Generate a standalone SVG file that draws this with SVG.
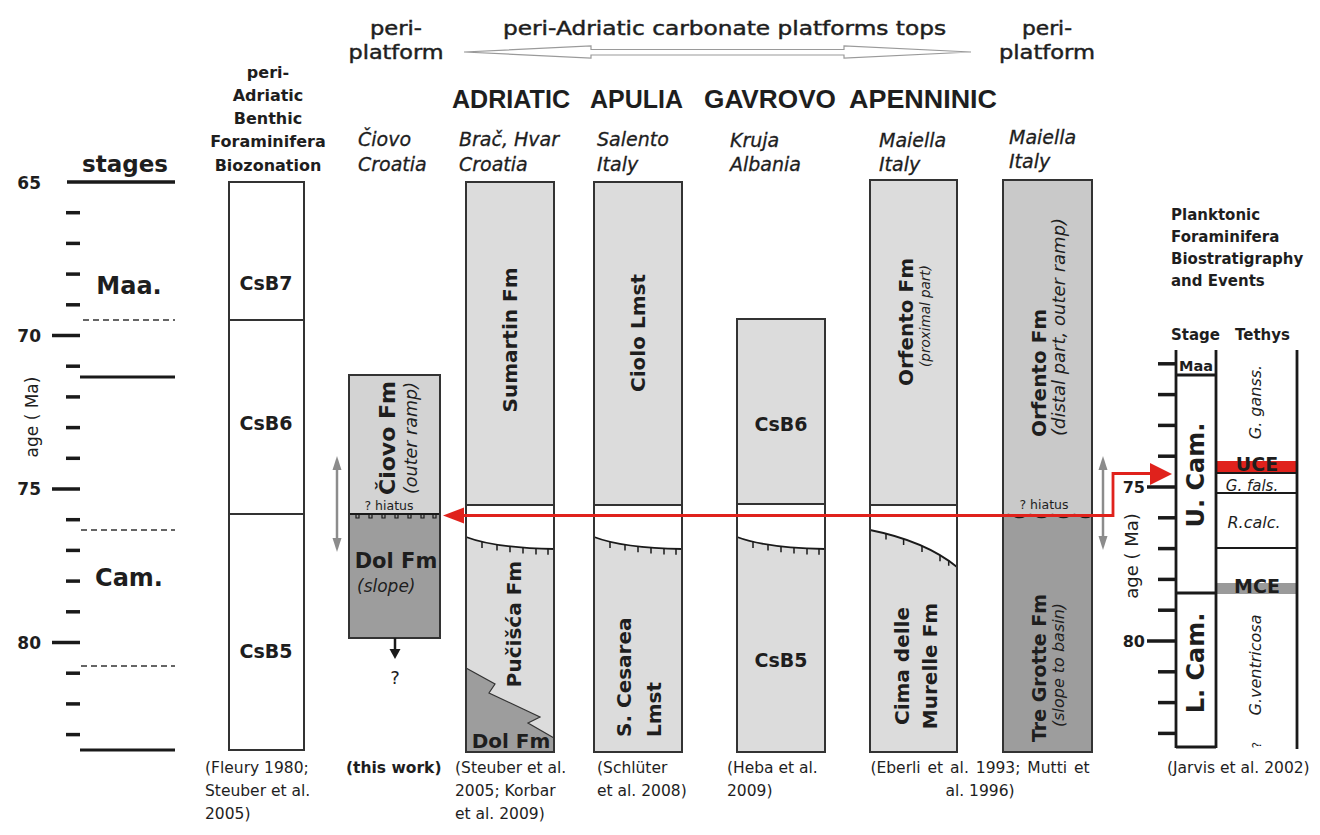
<svg xmlns="http://www.w3.org/2000/svg" width="1320" height="835" viewBox="0 0 1320 835">
<style>
text{font-family:"DejaVu Sans","Liberation Sans",sans-serif;fill:#1e1e1e}
.b{font-weight:bold}
.i{font-style:italic}
.med{stroke:#1e1e1e;stroke-width:0.45}
.reg{font-family:"Liberation Sans",Arial,sans-serif;font-weight:bold;font-size:25px}
.loc{font-size:19px;font-style:italic;stroke:#1e1e1e;stroke-width:0.3}
.ref{font-size:15.5px;fill:#3a3a3a}
.col{fill:none;stroke:#333;stroke-width:2}
.lt{fill:#dcdcdc}
.mid{fill:#c9c9c9}
.dk{fill:#9d9d9d}
.tk{stroke:#1a1a1a;stroke-width:3.5}
.ln{stroke:#1a1a1a;stroke-width:3}
.dash{stroke:#333;stroke-width:1.3;stroke-dasharray:6 4}
.unc{fill:none;stroke:#1a1a1a;stroke-width:1.8}
.utk{stroke:#1a1a1a;stroke-width:1.5}
.red{stroke:#e0221c;stroke-width:2.8;fill:none}
.gar{stroke:#8c8c8c;stroke-width:2.5}
.rb{stroke:#1a1a1a;stroke-width:2.8}
.rt{stroke:#1a1a1a;stroke-width:2}
</style>
<rect x="0" y="0" width="1320" height="835" fill="#fff"/>

<g id="header">
  <text class="med" x="503" y="35" font-size="19" textLength="443" lengthAdjust="spacingAndGlyphs">peri-Adriatic carbonate platforms tops</text>
  <polygon points="464,52 591,46 591,49.5 844,49.5 844,46 971,52 844,58 844,55 591,55 591,58" fill="#fff" stroke="#9a9a9a" stroke-width="1.2"/>
  <text class="med" x="396" y="35" font-size="19" text-anchor="middle" textLength="52" lengthAdjust="spacingAndGlyphs">peri-</text>
  <text class="med" x="396" y="59" font-size="19" text-anchor="middle" textLength="95" lengthAdjust="spacingAndGlyphs">platform</text>
  <text class="med" x="1047" y="35" font-size="19" text-anchor="middle" textLength="50" lengthAdjust="spacingAndGlyphs">peri-</text>
  <text class="med" x="1047" y="59" font-size="19" text-anchor="middle" textLength="96" lengthAdjust="spacingAndGlyphs">platform</text>
  <text class="reg" x="452" y="108" textLength="118" lengthAdjust="spacingAndGlyphs">ADRIATIC</text>
  <text class="reg" x="590" y="108" textLength="93" lengthAdjust="spacingAndGlyphs">APULIA</text>
  <text class="reg" x="704" y="108" textLength="132" lengthAdjust="spacingAndGlyphs">GAVROVO</text>
  <text class="reg" x="849" y="108" textLength="148" lengthAdjust="spacingAndGlyphs">APENNINIC</text>
</g>

<g id="axis-left">
  <text class="b" font-size="17" x="41" y="189" text-anchor="end">65</text>
  <text class="b" font-size="17" x="41" y="342" text-anchor="end">70</text>
  <text class="b" font-size="17" x="41" y="495" text-anchor="end">75</text>
  <text class="b" font-size="17" x="41" y="649" text-anchor="end">80</text>
  <text font-size="17" transform="translate(38,417) rotate(-90)" text-anchor="middle">age ( Ma)</text>
  <g class="tk">
    <line x1="52" y1="335.5" x2="80" y2="335.5"/>
    <line x1="52" y1="489" x2="80" y2="489"/>
    <line x1="52" y1="642.5" x2="80" y2="642.5"/>
    <line x1="66" y1="212.7" x2="80" y2="212.7"/>
    <line x1="66" y1="243.4" x2="80" y2="243.4"/>
    <line x1="66" y1="274.1" x2="80" y2="274.1"/>
    <line x1="66" y1="304.8" x2="80" y2="304.8"/>
    <line x1="66" y1="366.2" x2="80" y2="366.2"/>
    <line x1="66" y1="396.9" x2="80" y2="396.9"/>
    <line x1="66" y1="427.6" x2="80" y2="427.6"/>
    <line x1="66" y1="458.3" x2="80" y2="458.3"/>
    <line x1="66" y1="519.7" x2="80" y2="519.7"/>
    <line x1="66" y1="550.4" x2="80" y2="550.4"/>
    <line x1="66" y1="581.1" x2="80" y2="581.1"/>
    <line x1="66" y1="611.8" x2="80" y2="611.8"/>
    <line x1="66" y1="673.2" x2="80" y2="673.2"/>
    <line x1="66" y1="703.9" x2="80" y2="703.9"/>
    <line x1="66" y1="734.6" x2="80" y2="734.6"/>
  </g>
</g>

<g id="stages">
  <text class="b" font-size="23" x="125" y="172" text-anchor="middle">stages</text>
  <line class="tk" x1="67" y1="182" x2="175" y2="182"/>
  <line class="ln" x1="80" y1="377" x2="175" y2="377"/>
  <line class="ln" x1="80" y1="750" x2="175" y2="750"/>
  <line class="dash" x1="83" y1="320" x2="175" y2="320"/>
  <line class="dash" x1="81" y1="530" x2="175" y2="530"/>
  <line class="dash" x1="81" y1="666" x2="175" y2="666"/>
  <text class="b" font-size="24" x="129" y="294" text-anchor="middle">Maa.</text>
  <text class="b" font-size="24" x="129" y="586" text-anchor="middle">Cam.</text>
</g>

<g id="biozonation">
  <g class="b" font-size="16" text-anchor="middle">
    <text x="268" y="78">peri-</text>
    <text x="268" y="101">Adriatic</text>
    <text x="268" y="124">Benthic</text>
    <text x="268" y="147">Foraminifera</text>
    <text x="268" y="171">Biozonation</text>
  </g>
  <rect x="229" y="182" width="75" height="568" fill="#fff" stroke="#333" stroke-width="2"/>
  <line x1="229" y1="320" x2="304" y2="320" stroke="#333" stroke-width="2"/>
  <line x1="229" y1="514" x2="304" y2="514" stroke="#333" stroke-width="2"/>
  <g class="b" font-size="19" text-anchor="middle">
    <text x="266" y="290">CsB7</text>
    <text x="266" y="430">CsB6</text>
    <text x="266" y="658">CsB5</text>
  </g>
</g>

<g id="col-ciovo">
  <text class="loc" x="358" y="146">Čiovo</text>
  <text class="loc" x="358" y="171">Croatia</text>
  <rect x="349" y="375" width="91" height="139" fill="#d3d3d3"/>
  <rect class="dk" x="349" y="514" width="91" height="124"/>
  <line x1="349" y1="514" x2="440" y2="514" stroke="#1a1a1a" stroke-width="2"/>
  <path d="M356,514 v4 h3 v-4 M369,514 v4 h3 v-4 M382,514 v4 h3 v-4 M395,514 v4 h3 v-4 M408,514 v4 h3 v-4 M421,514 v4 h3 v-4 M433,514 v4 h3 v-4" fill="none" stroke="#1a1a1a" stroke-width="1.2"/>
  <rect class="col" x="349" y="375" width="91" height="263"/>
  <text class="b" font-size="22" transform="translate(395,438) rotate(-90)" text-anchor="middle">Čiovo Fm</text>
  <text class="i" font-size="17.5" transform="translate(417,438) rotate(-90)" text-anchor="middle">(outer ramp)</text>
  <text font-size="12.5" x="389" y="510" text-anchor="middle">? hiatus</text>
  <text class="b" font-size="21" x="396" y="568" text-anchor="middle">Dol Fm</text>
  <text class="i" font-size="17" x="357" y="592">(slope)</text>
  <line x1="395" y1="638" x2="395" y2="651" stroke="#1a1a1a" stroke-width="2.5"/>
  <polygon points="389.5,649 400.5,649 395,659" fill="#1a1a1a"/>
  <text font-size="18" x="395" y="684" text-anchor="middle">?</text>
</g>

<g id="col-brac">
  <text class="loc" x="459" y="146">Brač, Hvar</text>
  <text class="loc" x="459" y="171">Croatia</text>
  <rect class="lt" x="466" y="182" width="88" height="323"/>
  <path class="lt" d="M466,537 Q495,548 554,549 V752 H466 Z"/>
  <polygon class="dk" points="466,668 495,684 489,693 540,717 528,723 554,738 554,752 466,752"/>
  <polyline points="466,668 495,684 489,693 540,717 528,723 554,738" fill="none" stroke="#333" stroke-width="1.2"/>
  <line x1="466" y1="505" x2="554" y2="505" stroke="#333" stroke-width="2"/>
  <path class="unc" d="M466,537 Q495,548 554,549"/>
  <path class="utk" d="M482,542 v6 M497,544.5 v6 M510,546.3 v6 M523,547.6 v6 M536,548.4 v6 M548,548.8 v6"/>
  <rect class="col" x="466" y="182" width="88" height="570"/>
  <text class="b" font-size="20" transform="translate(517,340) rotate(-90)" text-anchor="middle">Sumartin Fm</text>
  <text class="b" font-size="20" transform="translate(521,624) rotate(-90)" text-anchor="middle">Pučišća Fm</text>
  <text class="b" font-size="20" x="511" y="748" text-anchor="middle">Dol Fm</text>
</g>

<g id="col-salento">
  <text class="loc" x="597" y="146">Salento</text>
  <text class="loc" x="597" y="171">Italy</text>
  <rect class="lt" x="594" y="182" width="88" height="323"/>
  <path class="lt" d="M594,537 Q623,548 682,549 V752 H594 Z"/>
  <line x1="594" y1="505" x2="682" y2="505" stroke="#333" stroke-width="2"/>
  <path class="unc" d="M594,537 Q623,548 682,549"/>
  <path class="utk" d="M610,542 v6 M625,544.5 v6 M638,546.3 v6 M651,547.6 v6 M664,548.4 v6 M676,548.8 v6"/>
  <rect class="col" x="594" y="182" width="88" height="570"/>
  <text class="b" font-size="20" transform="translate(645,333) rotate(-90)" text-anchor="middle">Ciolo Lmst</text>
  <text class="b" font-size="20" transform="translate(631,737) rotate(-90)">S. Cesarea</text>
  <text class="b" font-size="20" transform="translate(661,737) rotate(-90)">Lmst</text>
</g>

<g id="col-kruja">
  <text class="loc" x="730" y="147">Kruja</text>
  <text class="loc" x="730" y="171">Albania</text>
  <rect class="lt" x="737" y="319" width="88" height="186"/>
  <path class="lt" d="M737,537 Q766,548 825,549 V752 H737 Z"/>
  <line x1="737" y1="504" x2="825" y2="504" stroke="#333" stroke-width="2"/>
  <path class="unc" d="M737,537 Q766,548 825,549"/>
  <path class="utk" d="M753,542 v6 M768,544.5 v6 M781,546.3 v6 M794,547.6 v6 M807,548.4 v6 M819,548.8 v6"/>
  <rect class="col" x="737" y="319" width="88" height="433"/>
  <text class="b" font-size="19" x="781" y="431" text-anchor="middle">CsB6</text>
  <text class="b" font-size="19" x="781" y="667" text-anchor="middle">CsB5</text>
</g>

<g id="col-maiella-platform">
  <text class="loc" x="879" y="147">Maiella</text>
  <text class="loc" x="879" y="171">Italy</text>
  <rect class="lt" x="870" y="180" width="87" height="325"/>
  <path class="lt" d="M870,530 C895,535 930,545 957,567 V752 H870 Z"/>
  <line x1="870" y1="505" x2="957" y2="505" stroke="#333" stroke-width="2"/>
  <path class="unc" d="M870,530 C895,535 930,545 957,567"/>
  <path class="utk" d="M886,533.6 v6 M903.6,538.9 v6 M922,545.9 v6 M940,555.2 v6 M948.7,560.7 v5"/>
  <rect class="col" x="870" y="180" width="87" height="572"/>
  <text class="b" font-size="20" transform="translate(913,322) rotate(-90)" text-anchor="middle">Orfento Fm</text>
  <text class="i" font-size="13.5" transform="translate(930,316) rotate(-90)" text-anchor="middle">(proximal part)</text>
  <text class="b" font-size="20" transform="translate(909,666) rotate(-90)" text-anchor="middle">Cima delle</text>
  <text class="b" font-size="20" transform="translate(937,666) rotate(-90)" text-anchor="middle">Murelle Fm</text>
</g>

<g id="col-maiella-basin">
  <text class="loc" x="1009" y="144">Maiella</text>
  <text class="loc" x="1009" y="168">Italy</text>
  <rect class="mid" x="1003" y="180" width="89" height="336"/>
  <rect class="dk" x="1003" y="516" width="89" height="236"/>
  <path d="M1003,516 q5.5,-3 11,0 t11,0 t11,0 t11,0 t11,0 t11,0 t11,0 t11,0" fill="none" stroke="#1a1a1a" stroke-width="1.5"/>
  <rect class="col" x="1003" y="180" width="89" height="572"/>
  <text class="b" font-size="20" transform="translate(1046,437) rotate(-90)">Orfento Fm</text>
  <text class="i" font-size="18" transform="translate(1065,436) rotate(-90)">(distal part, outer ramp)</text>
  <text font-size="12.5" x="1044" y="509" text-anchor="middle">? hiatus</text>
  <text class="b" font-size="19" transform="translate(1046,668) rotate(-90)" text-anchor="middle">Tre Grotte Fm</text>
  <text class="i" font-size="16" transform="translate(1064,665) rotate(-90)" text-anchor="middle">(slope to basin)</text>
</g>

<g id="planktonic">
  <g class="b" font-size="15">
    <text x="1171" y="220">Planktonic</text>
    <text x="1171" y="242">Foraminifera</text>
    <text x="1171" y="264">Biostratigraphy</text>
    <text x="1171" y="286">and Events</text>
    <text x="1171" y="340">Stage</text>
    <text x="1235" y="340">Tethys</text>
  </g>
  <rect x="1216" y="461" width="81" height="11" fill="#e0221c"/>
  <rect x="1216" y="583" width="81" height="11" fill="#9a9a9a"/>
  <g class="rb">
    <line x1="1176" y1="350" x2="1176" y2="748"/>
    <line x1="1216" y1="350" x2="1216" y2="748"/>
    <line x1="1297" y1="350" x2="1297" y2="749"/>
    <line x1="1176" y1="747" x2="1216" y2="747"/>
    <line x1="1176" y1="375" x2="1216" y2="375"/>
    <line x1="1176" y1="593" x2="1216" y2="593"/>
  </g>
  <g class="rt">
    <line x1="1216" y1="473" x2="1297" y2="473"/>
    <line x1="1216" y1="493" x2="1297" y2="493"/>
    <line x1="1216" y1="548" x2="1297" y2="548"/>
  </g>
  <g class="tk">
    <line x1="1147" y1="487" x2="1176" y2="487"/>
    <line x1="1147" y1="641" x2="1176" y2="641"/>
    <line x1="1158" y1="363.8" x2="1176" y2="363.8"/>
    <line x1="1158" y1="394.6" x2="1176" y2="394.6"/>
    <line x1="1158" y1="425.4" x2="1176" y2="425.4"/>
    <line x1="1158" y1="456.2" x2="1176" y2="456.2"/>
    <line x1="1158" y1="517.8" x2="1176" y2="517.8"/>
    <line x1="1158" y1="548.6" x2="1176" y2="548.6"/>
    <line x1="1158" y1="579.4" x2="1176" y2="579.4"/>
    <line x1="1158" y1="610.2" x2="1176" y2="610.2"/>
    <line x1="1158" y1="671.8" x2="1176" y2="671.8"/>
    <line x1="1158" y1="702.6" x2="1176" y2="702.6"/>
    <line x1="1158" y1="733.4" x2="1176" y2="733.4"/>
  </g>
  <text class="b" font-size="16" x="1145" y="493" text-anchor="end">75</text>
  <text class="b" font-size="16" x="1145" y="647" text-anchor="end">80</text>
  <text font-size="18" transform="translate(1138,556) rotate(-90)" text-anchor="middle">age ( Ma)</text>
  <text class="b" font-size="14.5" x="1196" y="371" text-anchor="middle">Maa</text>
  <text class="b" font-size="24" transform="translate(1204,475) rotate(-90)" text-anchor="middle">U. Cam.</text>
  <text class="b" font-size="24" transform="translate(1204,663) rotate(-90)" text-anchor="middle">L. Cam.</text>
  <text class="i" font-size="16" transform="translate(1261,402) rotate(-90)" text-anchor="middle">G. ganss.</text>
  <text class="b" font-size="19" x="1257" y="471" text-anchor="middle">UCE</text>
  <text class="i" font-size="15" x="1252" y="491" text-anchor="middle">G. fals.</text>
  <text class="i" font-size="16" x="1254" y="528" text-anchor="middle">R.calc.</text>
  <text class="b" font-size="19" x="1257" y="593" text-anchor="middle">MCE</text>
  <text class="i" font-size="16" transform="translate(1261,665) rotate(-90)" text-anchor="middle">G.ventricosa</text>
  <text font-size="12" transform="translate(1261,745) rotate(-90)" text-anchor="middle">?</text>
</g>

<g id="connectors">
  <line class="gar" x1="337" y1="467" x2="337" y2="541"/>
  <polygon points="337,456 332.5,470 341.5,470" fill="#8c8c8c"/>
  <polygon points="337,552 332.5,538 341.5,538" fill="#8c8c8c"/>
  <line class="gar" x1="1103" y1="467" x2="1103" y2="539"/>
  <polygon points="1103,456 1098.5,470 1107.5,470" fill="#8c8c8c"/>
  <polygon points="1103,550 1098.5,536 1107.5,536" fill="#8c8c8c"/>
  <path class="red" d="M1151,473.5 H1113 V515.5 H462"/>
  <polygon points="443,515.5 464,507.5 464,523.5" fill="#e0221c"/>
  <polygon points="1172,474 1150,463 1150,485" fill="#e0221c"/>
</g>

<g id="refs" class="ref">
  <text x="205" y="773">(Fleury 1980;</text>
  <text x="205" y="796">Steuber et al.</text>
  <text x="205" y="819">2005)</text>
  <text class="b" font-size="15.5" x="346" y="773">(this work)</text>
  <text x="455" y="773">(Steuber et al.</text>
  <text x="455" y="796">2005; Korbar</text>
  <text x="455" y="819">et al. 2009)</text>
  <text x="597" y="773">(Schlüter</text>
  <text x="597" y="796">et al. 2008)</text>
  <text x="727" y="773">(Heba et al.</text>
  <text x="727" y="796">2009)</text>
  <text x="980" y="773" text-anchor="middle" word-spacing="2">(Eberli et al. 1993; Mutti et</text>
  <text x="980" y="796" text-anchor="middle">al. 1996)</text>
  <text x="1167" y="773">(Jarvis et al. 2002)</text>
</g>
</svg>
